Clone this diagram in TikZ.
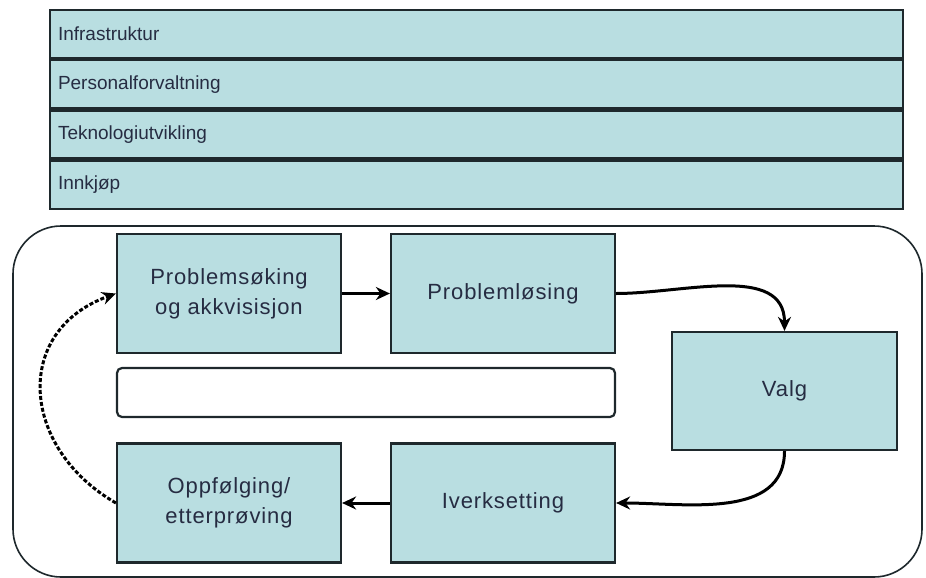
\documentclass[tikz,border=0pt]{standalone}
\usepackage{fontspec}
\setmainfont{Liberation Sans}
\newfontfamily\boxfont[LetterSpace=4]{Liberation Sans}
\usepackage{xcolor}
\usetikzlibrary{positioning,arrows.meta}
\definecolor{boxfill}{RGB}{185,222,225}
\definecolor{edge}{RGB}{30,40,44}
\definecolor{txt}{RGB}{38,44,66}

\begin{document}
\begin{tikzpicture}[x=1pt, y=-1pt,
    bar/.style={draw=edge, line width=2.2pt, fill=boxfill, rectangle, minimum width=853pt, minimum height=48pt, inner xsep=8pt, text width=837pt, align=left, text=txt, font=\fontsize{19}{23}\selectfont},
    stage/.style={draw=edge, line width=2.2pt, fill=boxfill, rectangle, minimum width=224pt, minimum height=119pt, align=center, text=txt, font=\boxfont\fontsize{22}{30}\selectfont},
    flow/.style={-{Stealth[length=14pt,width=13pt]}, line width=3pt, draw=black}]
    \useasboundingbox (0,0) rectangle (926,578);
    % support activities
    \node[bar] (infra) at (476.5,34) {Infrastruktur};
    \node[bar, below=0pt of infra] (personal) {Personalforvaltning};
    \node[bar, below=0pt of personal] (tekno) {Teknologiutvikling};
    \node[bar, below=0pt of tekno] (innkjop) {Innkjøp};
    
    % primary activities
    \node[draw=edge, line width=1.6pt, rounded corners=48pt, minimum width=909pt, minimum height=351pt] (frame) at (467.5,401.5) {};
    \node[stage] (psok) at (229,293.5) {Problemsøking\\og akkvisisjon};
    \node[stage] (plos) at (503,293.5) {Problemløsing};
    \node[stage, minimum width=225pt, minimum height=118pt] (valg) at (784.5,391) {Valg};
    \node[stage] (iverk) at (503,503) {Iverksetting};
    \node[stage] (oppf) at (229,503) {Oppfølging/\\etterprøving};
    \node[draw=edge, line width=2.2pt, fill=white, rounded corners=5pt, minimum width=498pt, minimum height=49pt] (blank) at (366,392.5) {};
    
    \draw[flow] (psok) -- (plos);
    \draw[flow] (plos.east) to[out=0, in=90] (valg.north);
    \draw[flow] (valg.south) to[out=-90, in=0] (iverk.east);
    \draw[flow] (iverk) -- (oppf);
    \draw[flow, dash pattern=on 4pt off 2pt] (oppf.west) to[out=150, in=200, looseness=1.35] (psok.west);
\end{tikzpicture}
\end{document}
